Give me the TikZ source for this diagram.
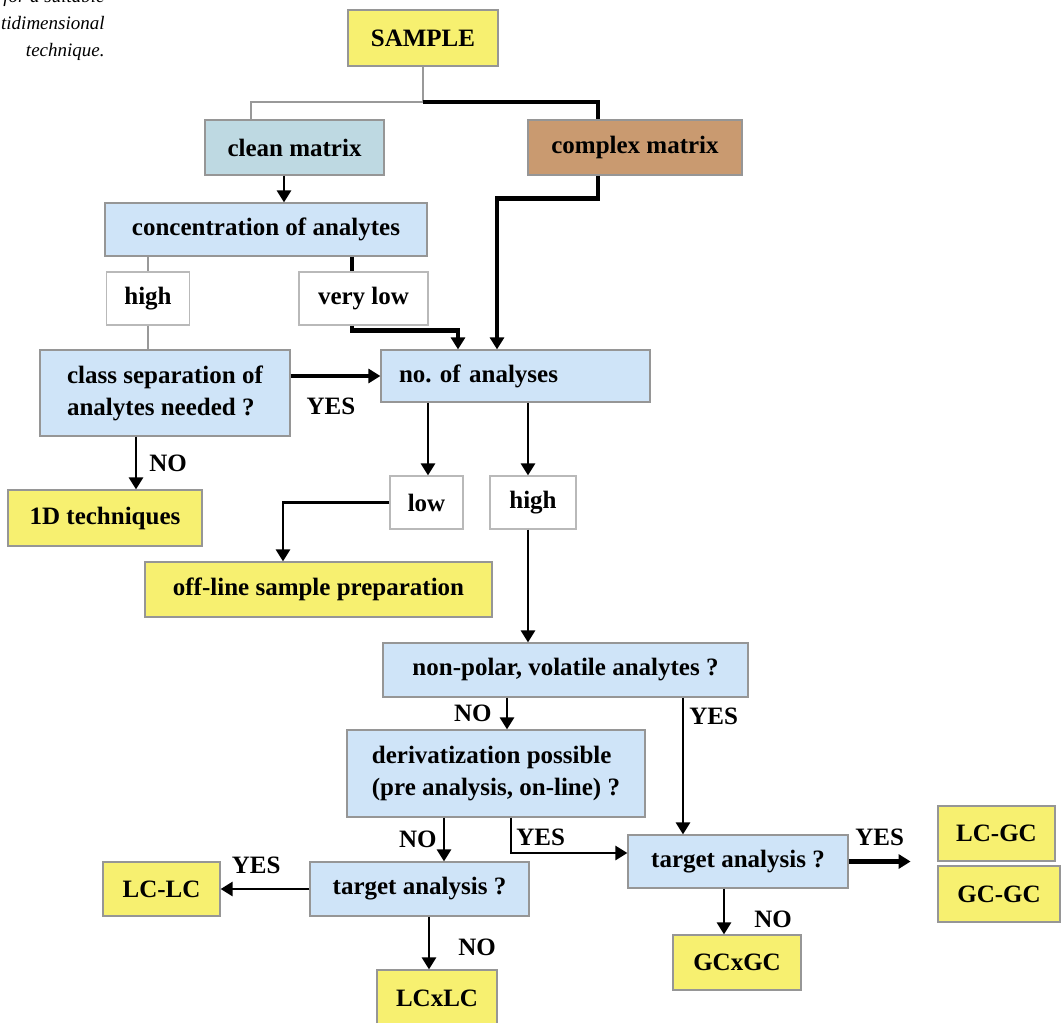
\documentclass[tikz,border=0pt]{standalone}
\usepackage{fontspec}
\setmainfont{Liberation Serif}
\usetikzlibrary{arrows.meta,calc,positioning}
\definecolor{resyellow}{RGB}{247,240,112}
\definecolor{qblue}{RGB}{207,228,248}
\definecolor{cleanblue}{RGB}{190,217,226}
\definecolor{cplxbrown}{RGB}{201,154,112}
\definecolor{edgegray}{RGB}{150,150,150}
\definecolor{optgray}{RGB}{185,185,185}

\begin{document}
\begin{tikzpicture}[x=0.5pt,y=-0.5pt,
  every node/.style={font=\bfseries\fontsize{12.5}{16}\selectfont},
  box/.style={draw=edgegray,line width=0.6pt,inner sep=0pt,align=center},
  endbox/.style={box,fill=resyellow},
  askbox/.style={box,fill=qblue},
  optbox/.style={box,draw=optgray,fill=white},
  lbl/.style={inner sep=0pt},
  capt/.style={font=\itshape\fontsize{9.5}{12}\selectfont,inner sep=0pt,anchor=base east},
  arr/.style={-{Triangle[length=6pt,width=7pt]},line width=1.4pt},
  thickarr/.style={arr,line width=2.2pt},
  thickline/.style={line width=2.2pt},
  grayline/.style={draw=black!40,line width=0.7pt}]
  \useasboundingbox (0,0) rectangle (1064,1022);

  \node[capt] (cap1) at (105,3) {for a suitable};
  \node[capt] (cap2) at (105,30) {tidimensional};
  \node[capt] (cap3) at (105,57) {technique.};

  \node[endbox,minimum width=75pt,minimum height=28pt] (sample) at (423,38) {SAMPLE};
  \node[box,fill=cleanblue,minimum width=89.5pt,minimum height=27.5pt] (clean) at (294.5,147.5) {clean matrix};
  \node[box,fill=cplxbrown,minimum width=107pt,minimum height=27.5pt] (complex) at (635,147.5) {complex matrix};
  \node[askbox,minimum width=161pt,minimum height=26.5pt] (conc) at (266,229.5) {concentration of analytes};
  \node[optbox,minimum width=41.5pt,minimum height=26.5pt] (high1) at (148,298.5) {high};
  \node[optbox,minimum width=64.5pt,minimum height=26.5pt] (vlow) at (363.5,298.5) {very low};
  \node[askbox,minimum width=125pt,minimum height=43pt,align=left] (csep) at (165,393) {class separation of\\analytes needed ?};
  \node[askbox,minimum height=26pt,text width=116.5pt,inner xsep=9pt,align=left] (nana) at (515.5,376) {no.\ of analyses};
  \node[endbox,minimum width=97pt,minimum height=28pt] (oned) at (105,518) {1D techniques};
  \node[optbox,minimum width=36.5pt,minimum height=26.5pt] (low) at (426.5,502.5) {low};
  \node[optbox,minimum width=43pt,minimum height=26.5pt] (high2) at (533,502.5) {high};
  \node[endbox,minimum width=173.5pt,minimum height=27.5pt] (offline) at (318.5,589.5) {off-line sample preparation};
  \node[askbox,minimum width=182.5pt,minimum height=27pt] (npol) at (565.5,670) {non-polar, volatile analytes ?};
  \node[askbox,minimum width=149pt,minimum height=43.5pt,align=left] (deriv) at (496,773.5) {derivatization possible\\(pre analysis, on-line) ?};
  \node[askbox,minimum width=109.5pt,minimum height=27pt] (tgtL) at (419.5,889) {target analysis ?};
  \node[endbox,minimum width=58.5pt,minimum height=27pt] (lclc) at (161.5,889) {LC-LC};
  \node[endbox,minimum width=60pt,minimum height=28pt] (lcxlc) at (437,998) {LCxLC};
  \node[askbox,minimum width=110pt,minimum height=26.5pt] (tgtR) at (738,861.5) {target analysis ?};
  \node[endbox,minimum width=58.5pt,minimum height=27.5pt] (lcgc) at (996.5,833.5) {LC-GC};
  \node[endbox,minimum width=61pt,minimum height=28pt] (gcgc) at (999,894) {GC-GC};
  \node[endbox,minimum width=64pt,minimum height=27.5pt] (gcxgc) at (737,962.5) {GCxGC};

  \coordinate (split) at (423,102);
  \draw[grayline] (sample.south) -- (split) -| ($(clean.north)+(-43.5,0)$);
  \draw[thickline] (split) -| ($(complex.north)+(-37,0)$);
  \coordinate (clout) at ($(clean.south)+(-10.5,0)$);
  \draw[arr] (clout) -- (clout |- conc.north);
  \coordinate (cxout) at ($(complex.south)+(-37,0)$);
  \draw[thickarr] (cxout) -- ++(0,23) -| ($(nana.north)+(-18.5,0)$);
  \draw[grayline] (conc.south -| high1.north) -- (high1.north);
  \draw[grayline] (high1.south) -- (high1.south |- csep.north);
  \coordinate (vlin) at ($(vlow.north)+(-11.5,0)$);
  \draw[thickline] (vlin |- conc.south) -- (vlin);
  \coordinate (vlout) at ($(vlow.south)+(-11.5,0)$);
  \draw[thickarr] (vlout) -- ++(0,5) -| ($(nana.north)+(-57.5,0)$);
  \draw[thickarr] (csep.east |- nana.west) -- (nana.west) node[lbl,pos=0.45,below=10pt] (yes1) {YES};
  \coordinate (csout) at ($(csep.south)+(-29,0)$);
  \draw[arr] (csout) -- (csout |- oned.north) node[lbl,midway,right=6pt] (no1) {NO};
  \coordinate (nalo) at ($(nana.south)+(-87.5,0)$);
  \draw[arr] (nalo) -- (nalo |- low.north);
  \coordinate (nahi) at ($(nana.south)+(12.5,0)$);
  \draw[arr] (nahi) -- (nahi |- high2.north);
  \draw[arr] (low.west) -| ($(offline.north)+(-35.5,0)$);
  \coordinate (hiout) at ($(high2.south)+(-5,0)$);
  \draw[arr] (hiout) -- (hiout |- npol.north);
  \coordinate (npno) at ($(npol.south)+(-58.5,0)$);
  \draw[arr] (npno) -- (npno |- deriv.north) node[lbl,midway,left=7pt] (no2) {NO};
  \coordinate (npyes) at ($(npol.south)+(117.5,0)$);
  \draw[arr] (npyes) -- (npyes |- tgtR.north) node[lbl,pos=0.14,right=2.5pt] (yes2) {YES};
  \coordinate (dvno) at ($(deriv.south)+(-52,0)$);
  \draw[arr] (dvno) -- (dvno |- tgtL.north) node[lbl,midway,left=3pt] (no3) {NO};
  \coordinate (dvyes) at ($(deriv.south)+(15,0)$);
  \draw[arr] (dvyes) |- ($(tgtR.west)+(0,-8.5)$) node[lbl,pos=0.28,right=2pt] (yes3) {YES};
  \draw[arr] (tgtL.west) -- (lclc.east) node[lbl,pos=0.6,above=7pt] (yes4) {YES};
  \coordinate (tlno) at ($(tgtL.south)+(9.5,0)$);
  \draw[arr] (tlno) -- (tlno |- lcxlc.north) node[lbl,pos=0.58,right=14pt] (no4) {NO};
  \path (tgtR.east) ++(62,0) coordinate (gcend);
  \draw[thickarr] (tgtR.east) -- (gcend) node[lbl,midway,above=7pt] (yes5) {YES};
  \coordinate (trno) at ($(tgtR.south)+(-14,0)$);
  \draw[arr] (trno) -- (trno |- gcxgc.north) node[lbl,pos=0.68,right=14.5pt] (no5) {NO};
\end{tikzpicture}
\end{document}
